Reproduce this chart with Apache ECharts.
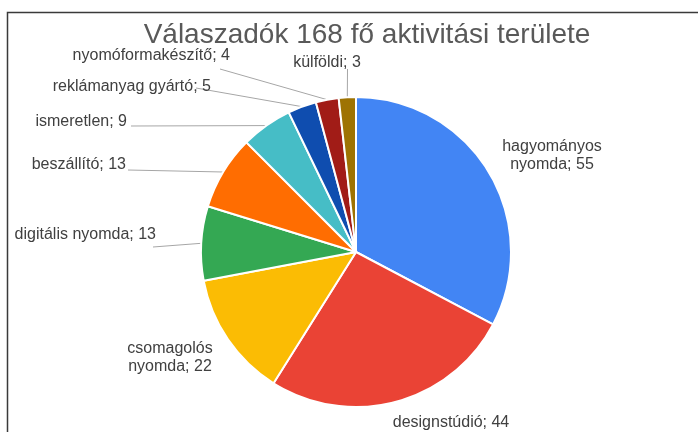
<!DOCTYPE html>
<html>
<head>
<meta charset="utf-8">
<script src="https://cdn.jsdelivr.net/npm/echarts@6/dist/echarts.min.js"></script>
<style>
  html, body { margin: 0; padding: 0; background: #fff; }
  #chart { width: 698px; height: 432px; }
</style>
</head>
<body>
<div id="chart"></div>
<script>
// adatok
const categories = [
  "hagyományos nyomda", "designstúdió", "csomagolós nyomda", "digitális nyomda",
  "beszállító", "ismeretlen", "reklámanyag gyártó", "nyomóformakészítő", "külföldi"
]
const values = [55, 44, 22, 13, 13, 9, 5, 4, 3]
const colors = [
  "#4285F4", "#EA4335", "#FBBC04", "#34A853", "#FF6D01",
  "#46BDC6", "#0F4DAF", "#A11C17", "#9E7303"
]
const wrapped = [0, 2]

// címkék helye: [x, y, igazítás, vonal vége x, vonal vége y]
const labelSpots = [
  [552, 156, "center"],
  [451, 423, "center"],
  [170, 358, "center"],
  [156, 235, "right", 153, 247],
  [126, 165, "right", 128, 170],
  [127, 122, "right", 131, 126],
  [211, 87, "right", 196, 88],
  [230, 56, "right", 220, 69],
  [327, 63, "center", 347.5, 69]
]

var myChart = echarts.init(document.getElementById("chart"))

let option = {
  animation: false,
  title: {
    text: "Válaszadók 168 fő aktivitási területe",
    left: 362,
    top: 16,
    textAlign: "center",
    textStyle: {
      fontFamily: "Liberation Sans",
      fontSize: 28,
      fontWeight: "normal",
      color: "#595959"
    }
  },
  graphic: [
    {
      type: "rect",
      shape: { x: 7.5, y: 12.5, width: 720, height: 440 },
      style: { fill: "none", stroke: "#3a3a3a", lineWidth: 1.5 },
      silent: true
    }
  ],
  series: [
    {
      type: "pie",
      center: [356, 252],
      radius: [0, 155],
      startAngle: 90,
      clockwise: true,
      itemStyle: {
        borderColor: "#fff",
        borderWidth: 2
      },
      label: {
        show: true,
        position: "outside",
        fontFamily: "Liberation Sans",
        fontSize: 16,
        lineHeight: 18,
        color: "#404040",
        formatter: (p) => {
          let name = wrapped.includes(p.dataIndex) ? p.name.replace(" ", "\n") : p.name
          return name + "; " + p.value
        }
      },
      labelLine: {
        show: true,
        lineStyle: { color: "#a6a6a6", width: 1 }
      },
      labelLayout: (params) => {
        const s = labelSpots[params.dataIndex]
        const p0 = params.labelLinePoints[0]
        const end = s.length > 3 ? [s[3], s[4]] : p0
        return {
          x: s[0],
          y: s[1],
          align: s[2],
          verticalAlign: "middle",
          labelLinePoints: [p0, end, end]
        }
      },
      data: categories.map((name, i) => ({
        name: name,
        value: values[i],
        itemStyle: { color: colors[i] }
      }))
    }
  ]
}

myChart.setOption(option)
</script>
</body>
</html>
